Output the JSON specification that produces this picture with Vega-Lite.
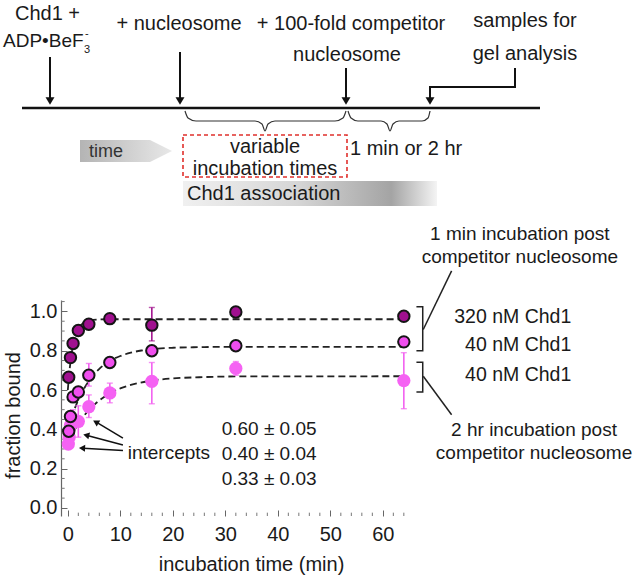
{
  "$schema": "https://vega.github.io/schema/vega-lite/v6.json",
  "width": 572,
  "height": 216,
  "autosize": {"type": "none"},
  "padding": {"left": 61, "top": 300, "right": 0, "bottom": 59},
  "background": "white",
  "config": {
    "view": {"stroke": null},
    "font": "Liberation Sans",
    "text": {"font": "Liberation Sans", "color": "#1a1a1a"},
    "axis": {"labelOverlap": false}
  },
  "datasets": {
    "points": [
      {"t": 0.17, "y": 0.665, "series": "320 nM, 1 min"},
      {"t": 0.5, "y": 0.765, "series": "320 nM, 1 min"},
      {"t": 1, "y": 0.837, "series": "320 nM, 1 min"},
      {"t": 2, "y": 0.903, "series": "320 nM, 1 min"},
      {"t": 4, "y": 0.935, "series": "320 nM, 1 min"},
      {"t": 8, "y": 0.963, "series": "320 nM, 1 min"},
      {"t": 16, "y": 0.93, "series": "320 nM, 1 min"},
      {"t": 32, "y": 0.997, "series": "320 nM, 1 min"},
      {"t": 64, "y": 0.975, "series": "320 nM, 1 min"},
      {"t": 0.17, "y": 0.39, "series": "40 nM, 1 min"},
      {"t": 0.5, "y": 0.465, "series": "40 nM, 1 min"},
      {"t": 1, "y": 0.565, "series": "40 nM, 1 min"},
      {"t": 2, "y": 0.59, "series": "40 nM, 1 min"},
      {"t": 4, "y": 0.675, "series": "40 nM, 1 min"},
      {"t": 8, "y": 0.74, "series": "40 nM, 1 min"},
      {"t": 16, "y": 0.8, "series": "40 nM, 1 min"},
      {"t": 32, "y": 0.825, "series": "40 nM, 1 min"},
      {"t": 64, "y": 0.845, "series": "40 nM, 1 min"},
      {"t": 0.1, "y": 0.325, "series": "40 nM, 2 hr"},
      {"t": 0.25, "y": 0.36, "series": "40 nM, 2 hr"},
      {"t": 0.5, "y": 0.42, "series": "40 nM, 2 hr"},
      {"t": 1, "y": 0.45, "series": "40 nM, 2 hr"},
      {"t": 2, "y": 0.44, "series": "40 nM, 2 hr"},
      {"t": 4, "y": 0.515, "series": "40 nM, 2 hr"},
      {"t": 8, "y": 0.585, "series": "40 nM, 2 hr"},
      {"t": 16, "y": 0.644, "series": "40 nM, 2 hr"},
      {"t": 32, "y": 0.71, "series": "40 nM, 2 hr"},
      {"t": 64, "y": 0.648, "series": "40 nM, 2 hr"}
    ],
    "errs": [
      {"t": 16, "lo": 0.85, "hi": 1.02, "series": "320 nM, 1 min"},
      {"t": 64, "lo": 0.955, "hi": 0.995, "series": "320 nM, 1 min"},
      {"t": 4, "lo": 0.62, "hi": 0.735, "series": "40 nM, 1 min"},
      {"t": 1, "lo": 0.4, "hi": 0.5, "series": "40 nM, 2 hr"},
      {"t": 2, "lo": 0.36, "hi": 0.52, "series": "40 nM, 2 hr"},
      {"t": 4, "lo": 0.46, "hi": 0.575, "series": "40 nM, 2 hr"},
      {"t": 8, "lo": 0.535, "hi": 0.635, "series": "40 nM, 2 hr"},
      {"t": 16, "lo": 0.53, "hi": 0.74, "series": "40 nM, 2 hr"},
      {"t": 32, "lo": 0.675, "hi": 0.745, "series": "40 nM, 2 hr"},
      {"t": 64, "lo": 0.505, "hi": 0.79, "series": "40 nM, 2 hr"}
    ],
    "fits": [
      {"t": 0, "y": 0.6, "series": "320 nM, 1 min"},
      {"t": 0.25, "y": 0.68, "series": "320 nM, 1 min"},
      {"t": 0.5, "y": 0.742, "series": "320 nM, 1 min"},
      {"t": 1, "y": 0.828, "series": "320 nM, 1 min"},
      {"t": 1.5, "y": 0.88, "series": "320 nM, 1 min"},
      {"t": 2, "y": 0.911, "series": "320 nM, 1 min"},
      {"t": 3, "y": 0.942, "series": "320 nM, 1 min"},
      {"t": 4, "y": 0.953, "series": "320 nM, 1 min"},
      {"t": 6, "y": 0.959, "series": "320 nM, 1 min"},
      {"t": 8, "y": 0.96, "series": "320 nM, 1 min"},
      {"t": 64, "y": 0.96, "series": "320 nM, 1 min"},
      {"t": 0, "y": 0.4, "series": "40 nM, 1 min"},
      {"t": 0.5, "y": 0.444, "series": "40 nM, 1 min"},
      {"t": 1, "y": 0.483, "series": "40 nM, 1 min"},
      {"t": 2, "y": 0.55, "series": "40 nM, 1 min"},
      {"t": 3, "y": 0.603, "series": "40 nM, 1 min"},
      {"t": 4, "y": 0.646, "series": "40 nM, 1 min"},
      {"t": 5, "y": 0.68, "series": "40 nM, 1 min"},
      {"t": 6, "y": 0.708, "series": "40 nM, 1 min"},
      {"t": 8, "y": 0.748, "series": "40 nM, 1 min"},
      {"t": 10, "y": 0.773, "series": "40 nM, 1 min"},
      {"t": 12, "y": 0.79, "series": "40 nM, 1 min"},
      {"t": 14, "y": 0.801, "series": "40 nM, 1 min"},
      {"t": 16, "y": 0.808, "series": "40 nM, 1 min"},
      {"t": 20, "y": 0.815, "series": "40 nM, 1 min"},
      {"t": 25, "y": 0.818, "series": "40 nM, 1 min"},
      {"t": 32, "y": 0.82, "series": "40 nM, 1 min"},
      {"t": 64, "y": 0.82, "series": "40 nM, 1 min"},
      {"t": 0, "y": 0.33, "series": "40 nM, 2 hr"},
      {"t": 0.5, "y": 0.358, "series": "40 nM, 2 hr"},
      {"t": 1, "y": 0.383, "series": "40 nM, 2 hr"},
      {"t": 2, "y": 0.428, "series": "40 nM, 2 hr"},
      {"t": 3, "y": 0.466, "series": "40 nM, 2 hr"},
      {"t": 4, "y": 0.498, "series": "40 nM, 2 hr"},
      {"t": 6, "y": 0.547, "series": "40 nM, 2 hr"},
      {"t": 8, "y": 0.583, "series": "40 nM, 2 hr"},
      {"t": 10, "y": 0.608, "series": "40 nM, 2 hr"},
      {"t": 12, "y": 0.626, "series": "40 nM, 2 hr"},
      {"t": 16, "y": 0.648, "series": "40 nM, 2 hr"},
      {"t": 20, "y": 0.659, "series": "40 nM, 2 hr"},
      {"t": 25, "y": 0.665, "series": "40 nM, 2 hr"},
      {"t": 32, "y": 0.669, "series": "40 nM, 2 hr"},
      {"t": 64, "y": 0.67, "series": "40 nM, 2 hr"}
    ],
    "xminor": [
      {"t": 2}, {"t": 4}, {"t": 6}, {"t": 8}, {"t": 12}, {"t": 14}, {"t": 16}, {"t": 18},
      {"t": 22}, {"t": 24}, {"t": 26}, {"t": 28}, {"t": 32}, {"t": 34}, {"t": 36}, {"t": 38},
      {"t": 42}, {"t": 44}, {"t": 46}, {"t": 48}, {"t": 52}, {"t": 54}, {"t": 56}, {"t": 58},
      {"t": 62}, {"t": 64}
    ],
    "yminor": [
      {"v": 0.05}, {"v": 0.1}, {"v": 0.15}, {"v": 0.25}, {"v": 0.3}, {"v": 0.35},
      {"v": 0.45}, {"v": 0.5}, {"v": 0.55}, {"v": 0.65}, {"v": 0.7}, {"v": 0.75},
      {"v": 0.85}, {"v": 0.9}, {"v": 0.95}, {"v": 1.05}
    ],
    "brackets": [
      {"g": "b1", "i": 1, "t": 66.4, "y": 1.024},
      {"g": "b1", "i": 2, "t": 67.6, "y": 1.024},
      {"g": "b1", "i": 3, "t": 67.6, "y": 0.8},
      {"g": "b1", "i": 4, "t": 66.4, "y": 0.8},
      {"g": "d1", "i": 1, "t": 67.7, "y": 0.908},
      {"g": "d1", "i": 2, "t": 73.1, "y": 1.206},
      {"g": "b2", "i": 1, "t": 66.4, "y": 0.741},
      {"g": "b2", "i": 2, "t": 67.6, "y": 0.741},
      {"g": "b2", "i": 3, "t": 67.6, "y": 0.59},
      {"g": "b2", "i": 4, "t": 66.4, "y": 0.59},
      {"g": "d2", "i": 1, "t": 67.7, "y": 0.67},
      {"g": "d2", "i": 2, "t": 73.1, "y": 0.474}
    ],
    "arrows": [
      {"a": 1, "t1": 10.5, "y1": 0.355, "t2": 5.5, "y2": 0.435},
      {"a": 2, "t1": 10.5, "y1": 0.32, "t2": 3.7, "y2": 0.369},
      {"a": 3, "t1": 10.5, "y1": 0.292, "t2": 2.9, "y2": 0.304}
    ]
  },
  "layer": [
    {
      "layer": [
        {
          "data": {"name": "fits"},
          "mark": {"type": "line", "strokeDash": [7, 4], "strokeWidth": 1.8, "color": "#222", "interpolate": "monotone"},
          "encoding": {
            "x": {"field": "t", "type": "quantitative", "scale": {"domain": [-1.3, 107.65], "nice": false, "zero": false},
              "axis": {"values": [0, 10, 20, 30, 40, 50, 60],
                "labelOverlap": false,
                "domain": false, "grid": false, "tickSize": -6, "tickColor": "#666", "tickWidth": 1,
                "labelFontSize": 20, "labelColor": "#1a1a1a", "labelFont": "Liberation Sans", "labelPadding": 14,
                "title": "incubation time (min)", "titleFontSize": 20, "titleFontWeight": "normal", "titleColor": "#1a1a1a", "titleFont": "Liberation Sans",
                "titleX": 190, "titleY": 54, "titleBaseline": "alphabetic", "titleAlign": "center"}},
            "y": {"field": "y", "type": "quantitative", "scale": {"domain": [-0.041, 1.058], "nice": false, "zero": false},
              "axis": {"values": [0, 0.2, 0.4, 0.6, 0.8, 1.0],
                "format": ".1f", "labelOverlap": false,
                "domain": true, "domainColor": "#666", "domainWidth": 1.2, "grid": false, "tickSize": -6, "tickColor": "#666", "tickWidth": 1,
                "labelFontSize": 20, "labelColor": "#1a1a1a", "labelFont": "Liberation Sans", "labelPadding": 10,
                "title": "fraction bound", "titleFontSize": 20, "titleFontWeight": "normal", "titleColor": "#1a1a1a", "titleFont": "Liberation Sans",
                "titleX": -48, "titleY": 115, "titleBaseline": "middle", "titleAlign": "center", "titleAngle": -90}},
            "detail": {"field": "series"}
          }
        },
        {
          "mark": {"type": "rule", "color": "#666", "strokeWidth": 1.2},
          "encoding": {"x": {"datum": -1.3}, "x2": {"datum": 65.5}, "y": {"datum": -0.041}}
        },
        {
          "data": {"name": "xminor"},
          "mark": {"type": "rule", "color": "#777", "strokeWidth": 1},
          "encoding": {"x": {"field": "t", "type": "quantitative"}, "y": {"datum": -0.041}, "y2": {"datum": -0.024}}
        },
        {
          "data": {"name": "yminor"},
          "mark": {"type": "rule", "color": "#777", "strokeWidth": 1},
          "encoding": {"y": {"field": "v", "type": "quantitative"}, "x": {"datum": -1.3}, "x2": {"datum": -0.6}}
        },
        {
          "data": {"name": "errs"},
          "mark": {"type": "rule", "strokeWidth": 1.6},
          "encoding": {
            "x": {"field": "t", "type": "quantitative"},
            "y": {"field": "lo", "type": "quantitative"},
            "y2": {"field": "hi"},
            "stroke": {"field": "series", "type": "nominal", "legend": null,
              "scale": {"domain": ["320 nM, 1 min", "40 nM, 1 min", "40 nM, 2 hr"], "range": ["#a3148f", "#f25cf0", "#f262f0"]}}
          }
        },
        {
          "data": {"name": "errs"},
          "mark": {"type": "tick", "orient": "horizontal", "size": 6, "thickness": 1.4},
          "encoding": {
            "x": {"field": "t", "type": "quantitative"},
            "y": {"field": "lo", "type": "quantitative"},
            "color": {"field": "series", "type": "nominal", "legend": null,
              "scale": {"domain": ["320 nM, 1 min", "40 nM, 1 min", "40 nM, 2 hr"], "range": ["#a3148f", "#f25cf0", "#f262f0"]}}
          }
        },
        {
          "data": {"name": "errs"},
          "mark": {"type": "tick", "orient": "horizontal", "size": 6, "thickness": 1.4},
          "encoding": {
            "x": {"field": "t", "type": "quantitative"},
            "y": {"field": "hi", "type": "quantitative"},
            "color": {"field": "series", "type": "nominal", "legend": null}
          }
        },
        {
          "data": {"name": "points"},
          "transform": [{"filter": "datum.series === '40 nM, 2 hr'"}],
          "mark": {"type": "point", "filled": true, "opacity": 1, "size": 175, "strokeWidth": 0},
          "encoding": {
            "x": {"field": "t", "type": "quantitative"},
            "y": {"field": "y", "type": "quantitative"},
            "fill": {"field": "series", "type": "nominal", "legend": null,
              "scale": {"domain": ["320 nM, 1 min", "40 nM, 1 min", "40 nM, 2 hr"], "range": ["#a0108f", "#f04eee", "#f562f3"]}}
          }
        },
        {
          "data": {"name": "points"},
          "transform": [{"filter": "datum.series !== '40 nM, 2 hr'"}],
          "mark": {"type": "point", "filled": true, "opacity": 1, "size": 130, "stroke": "#151515", "strokeWidth": 2},
          "encoding": {
            "x": {"field": "t", "type": "quantitative"},
            "y": {"field": "y", "type": "quantitative"},
            "fill": {"field": "series", "type": "nominal", "legend": null},
            "order": {"field": "series", "sort": "descending"}
          }
        },
        {
          "data": {"name": "brackets"},
          "mark": {"type": "line", "color": "#222", "strokeWidth": 1.5},
          "encoding": {
            "x": {"field": "t", "type": "quantitative"},
            "y": {"field": "y", "type": "quantitative"},
            "detail": {"field": "g"},
            "order": {"field": "i"}
          }
        },
        {
          "data": {"name": "arrows"},
          "mark": {"type": "rule", "color": "#111", "strokeWidth": 1.5},
          "encoding": {
            "x": {"field": "t1", "type": "quantitative"},
            "x2": {"field": "t2"},
            "y": {"field": "y1", "type": "quantitative"},
            "y2": {"field": "y2"}
          }
        },
        {
          "data": {"name": "arrows"},
          "transform": [{"filter": "datum.a === 1"}],
          "mark": {"type": "point", "shape": "triangle", "filled": true, "color": "#111", "size": 50, "angle": 300, "opacity": 1},
          "encoding": {"x": {"field": "t2", "type": "quantitative"}, "y": {"field": "y2", "type": "quantitative"}}
        },
        {
          "data": {"name": "arrows"},
          "transform": [{"filter": "datum.a === 2"}],
          "mark": {"type": "point", "shape": "triangle", "filled": true, "color": "#111", "size": 50, "angle": 284, "opacity": 1},
          "encoding": {"x": {"field": "t2", "type": "quantitative"}, "y": {"field": "y2", "type": "quantitative"}}
        },
        {
          "data": {"name": "arrows"},
          "transform": [{"filter": "datum.a === 3"}],
          "mark": {"type": "point", "shape": "triangle", "filled": true, "color": "#111", "size": 50, "angle": 273, "opacity": 1},
          "encoding": {"x": {"field": "t2", "type": "quantitative"}, "y": {"field": "y2", "type": "quantitative"}}
        },
        {
          "data": {"values": [
            {"t": 29.3, "y": 0.40, "label": "0.60 ± 0.05"},
            {"t": 29.3, "y": 0.275, "label": "0.40 ± 0.04"},
            {"t": 29.3, "y": 0.146, "label": "0.33 ± 0.03"},
            {"t": 11.4, "y": 0.282, "label": "intercepts"}
          ]},
          "mark": {"type": "text", "align": "left", "baseline": "middle", "fontSize": 19},
          "encoding": {"x": {"field": "t", "type": "quantitative"}, "y": {"field": "y", "type": "quantitative"}, "text": {"field": "label"}}
        },
        {
          "data": {"values": [
            {"t": 95.9, "y": 0.973, "label": "320 nM Chd1"},
            {"t": 95.9, "y": 0.828, "label": "40 nM Chd1"},
            {"t": 95.9, "y": 0.675, "label": "40 nM Chd1"}
          ]},
          "mark": {"type": "text", "align": "right", "baseline": "middle", "fontSize": 19.5},
          "encoding": {"x": {"field": "t", "type": "quantitative"}, "y": {"field": "y", "type": "quantitative"}, "text": {"field": "label"}}
        },
        {
          "data": {"values": [
            {"t": 86.1, "y": 1.393, "label": "1 min incubation post"},
            {"t": 86.1, "y": 1.279, "label": "competitor nucleosome"},
            {"t": 88.8, "y": 0.398, "label": "2 hr incubation post"},
            {"t": 88.8, "y": 0.282, "label": "competitor nucleosome"}
          ]},
          "mark": {"type": "text", "align": "center", "baseline": "middle", "fontSize": 19},
          "encoding": {"x": {"field": "t", "type": "quantitative"}, "y": {"field": "y", "type": "quantitative"}, "text": {"field": "label"}}
        }
      ]
    },
    {
      "layer": [
        {
          "data": {"values": [
            {"x": 80, "top": 140, "bot": 162},
            {"x": 150, "top": 140, "bot": 162},
            {"x": 172, "top": 151, "bot": 151}
          ]},
          "mark": {"type": "area", "orient": "vertical",
            "color": {"gradient": "linear", "x1": 0, "x2": 1, "y1": 0, "y2": 0,
              "stops": [{"offset": 0, "color": "#b4b4b4"}, {"offset": 1, "color": "#e8e8e8"}]}},
          "encoding": {
            "x": {"field": "x", "type": "quantitative", "scale": {"domain": [61, 633], "nice": false, "zero": false}, "axis": null},
            "y": {"field": "top", "type": "quantitative", "scale": {"domain": [300, 516], "nice": false, "zero": false, "reverse": true}, "axis": null},
            "y2": {"field": "bot"}
          }
        },
        {
          "data": {"values": [{"x1": 183, "x2": 437, "y1": 181, "y2": 206}]},
          "mark": {"type": "rect",
            "color": {"gradient": "linear", "x1": 0, "x2": 1, "y1": 0, "y2": 0,
              "stops": [{"offset": 0, "color": "#f0f0f0"}, {"offset": 0.45, "color": "#d6d6d6"}, {"offset": 0.82, "color": "#a4a4a4"}, {"offset": 1, "color": "#f4f4f4"}]}},
          "encoding": {
            "x": {"field": "x1", "type": "quantitative"},
            "x2": {"field": "x2"},
            "y": {"field": "y1", "type": "quantitative"},
            "y2": {"field": "y2"}
          }
        },
        {
          "data": {"values": [{"x1": 183, "x2": 347, "y1": 135, "y2": 177}]},
          "mark": {"type": "rect", "fill": null, "fillOpacity": 0, "stroke": "#e0302c", "strokeWidth": 1.6, "strokeDash": [4, 3]},
          "encoding": {
            "x": {"field": "x1", "type": "quantitative"},
            "x2": {"field": "x2"},
            "y": {"field": "y1", "type": "quantitative"},
            "y2": {"field": "y2"}
          }
        },
        {
          "data": {"values": [{"x1": 22, "x2": 540, "y": 108}]},
          "mark": {"type": "rule", "color": "#111", "strokeWidth": 2.6},
          "encoding": {"x": {"field": "x1", "type": "quantitative"}, "x2": {"field": "x2"}, "y": {"field": "y", "type": "quantitative"}}
        },
        {
          "data": {"values": [
            {"x": 50, "y1": 57, "y2": 100},
            {"x": 180, "y1": 52, "y2": 100},
            {"x": 346, "y1": 68, "y2": 100}
          ]},
          "mark": {"type": "rule", "color": "#111", "strokeWidth": 2},
          "encoding": {"x": {"field": "x", "type": "quantitative"}, "y": {"field": "y1", "type": "quantitative"}, "y2": {"field": "y2"}}
        },
        {
          "data": {"values": [
            {"i": 1, "x": 515, "y": 68},
            {"i": 2, "x": 515, "y": 87},
            {"i": 3, "x": 430, "y": 87},
            {"i": 4, "x": 430, "y": 100}
          ]},
          "mark": {"type": "line", "color": "#111", "strokeWidth": 2},
          "encoding": {"x": {"field": "x", "type": "quantitative"}, "y": {"field": "y", "type": "quantitative"}, "order": {"field": "i"}}
        },
        {
          "data": {"values": [
            {"x": 50, "y": 101}, {"x": 180, "y": 101}, {"x": 346, "y": 101}, {"x": 430, "y": 101}
          ]},
          "mark": {"type": "point", "shape": "triangle-down", "filled": true, "color": "#111", "size": 80, "opacity": 1},
          "encoding": {"x": {"field": "x", "type": "quantitative"}, "y": {"field": "y", "type": "quantitative"}}
        },
        {
          "data": {"values": [
            {"b": 1, "x": 185, "y": 111}, {"b": 1, "x": 188, "y": 118}, {"b": 1, "x": 196, "y": 121}, {"b": 1, "x": 255, "y": 121},
            {"b": 1, "x": 262, "y": 124}, {"b": 1, "x": 265, "y": 131}, {"b": 1, "x": 268, "y": 124}, {"b": 1, "x": 275, "y": 121},
            {"b": 1, "x": 335, "y": 121}, {"b": 1, "x": 343, "y": 118}, {"b": 1, "x": 346, "y": 111},
            {"b": 2, "x": 348, "y": 111}, {"b": 2, "x": 351, "y": 118}, {"b": 2, "x": 358, "y": 121}, {"b": 2, "x": 381, "y": 121},
            {"b": 2, "x": 387, "y": 124}, {"b": 2, "x": 390, "y": 131}, {"b": 2, "x": 393, "y": 124}, {"b": 2, "x": 399, "y": 121},
            {"b": 2, "x": 422, "y": 121}, {"b": 2, "x": 428, "y": 118}, {"b": 2, "x": 430, "y": 111}
          ]},
          "mark": {"type": "line", "color": "#333", "strokeWidth": 1.2, "interpolate": "monotone"},
          "encoding": {"x": {"field": "x", "type": "quantitative"}, "y": {"field": "y", "type": "quantitative"}, "detail": {"field": "b"}}
        },
        {
          "data": {"values": [
            {"x": 15, "y": 20, "label": "Chd1 +"},
            {"x": 350, "y": 155, "label": "1 min or 2 hr"},
            {"x": 187, "y": 200, "label": "Chd1 association"}
          ]},
          "mark": {"type": "text", "align": "left", "baseline": "alphabetic", "fontSize": 20},
          "encoding": {"x": {"field": "x", "type": "quantitative"}, "y": {"field": "y", "type": "quantitative"}, "text": {"field": "label"}}
        },
        {
          "data": {"values": [
            {"x": 3, "y": 47, "label": "ADP•BeF"}
          ]},
          "mark": {"type": "text", "align": "left", "baseline": "alphabetic", "fontSize": 19},
          "encoding": {"x": {"field": "x", "type": "quantitative"}, "y": {"field": "y", "type": "quantitative"}, "text": {"field": "label"}}
        },
        {
          "data": {"values": [
            {"x": 84, "y": 53, "label": "3"},
            {"x": 85, "y": 37, "label": "-"}
          ]},
          "mark": {"type": "text", "align": "left", "baseline": "alphabetic", "fontSize": 11},
          "encoding": {"x": {"field": "x", "type": "quantitative"}, "y": {"field": "y", "type": "quantitative"}, "text": {"field": "label"}}
        },
        {
          "data": {"values": [
            {"x": 179, "y": 30, "label": "+ nucleosome"},
            {"x": 351, "y": 30, "label": "+ 100-fold competitor"},
            {"x": 347, "y": 61, "label": "nucleosome"},
            {"x": 525, "y": 27, "label": "samples for"},
            {"x": 525, "y": 60, "label": "gel analysis"},
            {"x": 265, "y": 153, "label": "variable"},
            {"x": 265, "y": 175, "label": "incubation times"}
          ]},
          "mark": {"type": "text", "align": "center", "baseline": "alphabetic", "fontSize": 20},
          "encoding": {"x": {"field": "x", "type": "quantitative"}, "y": {"field": "y", "type": "quantitative"}, "text": {"field": "label"}}
        },
        {
          "data": {"values": [{"x": 106, "y": 157, "label": "time"}]},
          "mark": {"type": "text", "align": "center", "baseline": "alphabetic", "fontSize": 18, "color": "#333"},
          "encoding": {"x": {"field": "x", "type": "quantitative"}, "y": {"field": "y", "type": "quantitative"}, "text": {"field": "label"}}
        }
      ]
    }
  ],
  "resolve": {"scale": {"x": "independent", "y": "independent"}}
}
